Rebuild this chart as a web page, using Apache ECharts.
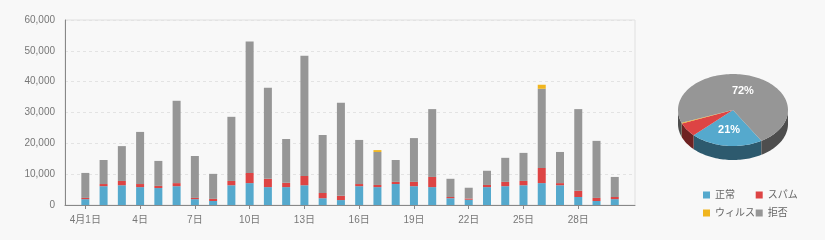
<!DOCTYPE html>
<html>
<head>
<meta charset="utf-8">
<script src="https://cdn.jsdelivr.net/npm/echarts@6/dist/echarts.min.js"></script>
<style>html,body{margin:0;padding:0;background:#f8f8f8;}#c{width:825px;height:240px;}</style>
</head>
<body>
<div id="c"></div>
<script>
// ---- data ----
const days = ['4月1日','2日','3日','4日','5日','6日','7日','8日','9日','10日','11日','12日','13日','14日','15日','16日','17日','18日','19日','20日','21日','22日','23日','24日','25日','26日','27日','28日','29日','30日'];
const normal = [1900,6100,6400,5800,5500,6100,1900,1300,6400,7100,5800,5800,6400,2200,1600,6100,5800,6800,6100,5800,2200,1700,5800,6100,6400,7100,6400,2600,1300,1900];
const spam   = [400,700,1400,1000,700,1000,400,700,1400,3300,2700,1400,3000,1700,1400,700,700,700,1400,3300,400,400,700,1400,1400,4900,700,2000,1000,700];
const reject = [8100,7800,11300,16900,8100,26700,13600,8100,20800,42600,29500,14200,39000,18800,30200,14300,10700,7100,14200,22000,5900,3500,4600,7800,9100,25700,10100,26500,18500,6500];
const virus  = [0,0,0,0,0,0,0,0,0,0,0,0,0,0,0,0,600,0,0,0,0,0,0,0,0,1300,0,0,0,0];
const seriesNames = ['正常','スパム','ウィルス','拒否'];
const yMax = 60000, yStep = 10000;

// ---- styles ----
const topColors  = ['#55a9cd','#dd4444','#f0b51e','#969696'];
const sideColors = ['#2d5a6e','#6e2222','#7a5c10','#4e4e4e'];
const FONT = "'Liberation Sans','Noto Sans CJK JP',sans-serif";
const LABEL_COLOR = '#777';

const sum = a => a.reduce((p,c)=>p+c,0);
const pieValues = [sum(normal), sum(spam), sum(virus), sum(reject)];
const pieTotal = sum(pieValues);
const cum = [0];
pieValues.forEach((v,i)=>cum.push(cum[i]+v));

const CX = 733, CY = 110, RX = 55, RY = 36, DEPTH = 14, START = 59;
function ell(deg, dy){ const r = deg*Math.PI/180; return [CX + RX*Math.cos(r), CY + RY*Math.sin(r) + (dy||0)]; }
function arc(a0, a1, dy){ const pts=[]; const n=Math.max(2,Math.ceil(Math.abs(a1-a0)/2)); for(let k=0;k<=n;k++){ pts.push(ell(a0+(a1-a0)*k/n, dy)); } return pts; }

function renderPie(params, api){
  const i = params.dataIndex;
  const s = START + 360*cum[i]/pieTotal, e = START + 360*cum[i+1]/pieTotal;
  const children = [];
  if (e > s) {
    children.push({type:'polygon', z2:10, shape:{points:[[CX,CY]].concat(arc(s,e,0))}, style:{fill:topColors[i], stroke:null}});
    [[0,180],[360,540]].forEach(w=>{
      const a0=Math.max(s,w[0]), a1=Math.min(e,w[1]);
      if(a1>a0){
        const pts = arc(a0,a1,0).concat(arc(a1,a0,DEPTH));
        children.push({type:'polygon', z2:1, shape:{points:pts}, style:{fill:sideColors[i], stroke:null}});
      }
    });
    const pct = Math.round(pieValues[i]/pieTotal*100);
    if (pct >= 10) {
      const m = (s+e)/2*Math.PI/180;
      children.push({type:'text', z2:20, style:{text:pct+'%', x:CX+RX*0.55*Math.cos(m), y:CY+RY*0.55*Math.sin(m),
        fill:'#fff', fontSize:11, fontWeight:'bold', fontFamily:'Arial, Liberation Sans, sans-serif',
        align:'center', verticalAlign:'middle', textAlign:'center', textVerticalAlign:'middle'}});
    }
  }
  return {type:'group', children};
}

const chart = echarts.init(document.getElementById('c'));
chart.setOption({
  backgroundColor:'#f8f8f8',
  animation:false,
  textStyle:{fontFamily:FONT},
  grid:[
    {left:65, right:190, top:20, bottom:35, show:true, borderColor:'#e0e0e0', borderWidth:1, backgroundColor:'transparent'},
    {left:76.2, right:201.1, top:20, bottom:35}
  ],
  xAxis:[
    {gridIndex:0, type:'value', min:0, max:1, axisLine:{show:true, lineStyle:{color:'#888'}}, axisTick:{show:false}, axisLabel:{show:false}, splitLine:{show:false}},
    {gridIndex:1, type:'category', data:days, boundaryGap:true,
     axisLine:{show:false},
     axisTick:{show:true, interval:2, alignWithLabel:true, length:4, lineStyle:{color:'#888'}},
     axisLabel:{interval:2, margin:10, fontSize:10, color:LABEL_COLOR, fontFamily:FONT}}
  ],
  yAxis:[
    {gridIndex:0, type:'value', min:0, max:yMax, interval:yStep,
     axisLine:{show:true, lineStyle:{color:'#888'}}, axisTick:{show:false},
     axisLabel:{fontSize:10, color:LABEL_COLOR, margin:10, fontFamily:FONT},
     splitLine:{show:true, lineStyle:{color:'#e3e3e3', type:[3,3]}}},
    {gridIndex:1, type:'value', min:0, max:yMax, show:false, splitLine:{show:false}}
  ],
  legend:[
    {data:['正常','ウィルス'], orient:'vertical', left:698, top:185, itemWidth:7, itemHeight:7, itemGap:8, icon:'rect',
     textStyle:{fontSize:10, color:'#666', fontFamily:FONT}, selectedMode:false},
    {data:['スパム','拒否'], orient:'vertical', left:750.7, top:185, itemWidth:7, itemHeight:7, itemGap:8, icon:'rect',
     textStyle:{fontSize:10, color:'#666', fontFamily:FONT}, selectedMode:false}
  ],
  series:[
    {name:seriesNames[0], type:'bar', stack:'t', xAxisIndex:1, yAxisIndex:1, barWidth:8, data:normal, itemStyle:{color:topColors[0]}},
    {name:seriesNames[1], type:'bar', stack:'t', xAxisIndex:1, yAxisIndex:1, barWidth:8, data:spam, itemStyle:{color:topColors[1]}},
    {name:seriesNames[3], type:'bar', stack:'t', xAxisIndex:1, yAxisIndex:1, barWidth:8, data:reject, itemStyle:{color:topColors[3]}},
    {name:seriesNames[2], type:'bar', stack:'t', xAxisIndex:1, yAxisIndex:1, barWidth:8, data:virus, itemStyle:{color:topColors[2]}},
    {name:'pie', type:'custom', coordinateSystem:'none', silent:true, renderItem:renderPie, data:pieValues.map(v=>[v])}
  ]
});
</script>
</body>
</html>
